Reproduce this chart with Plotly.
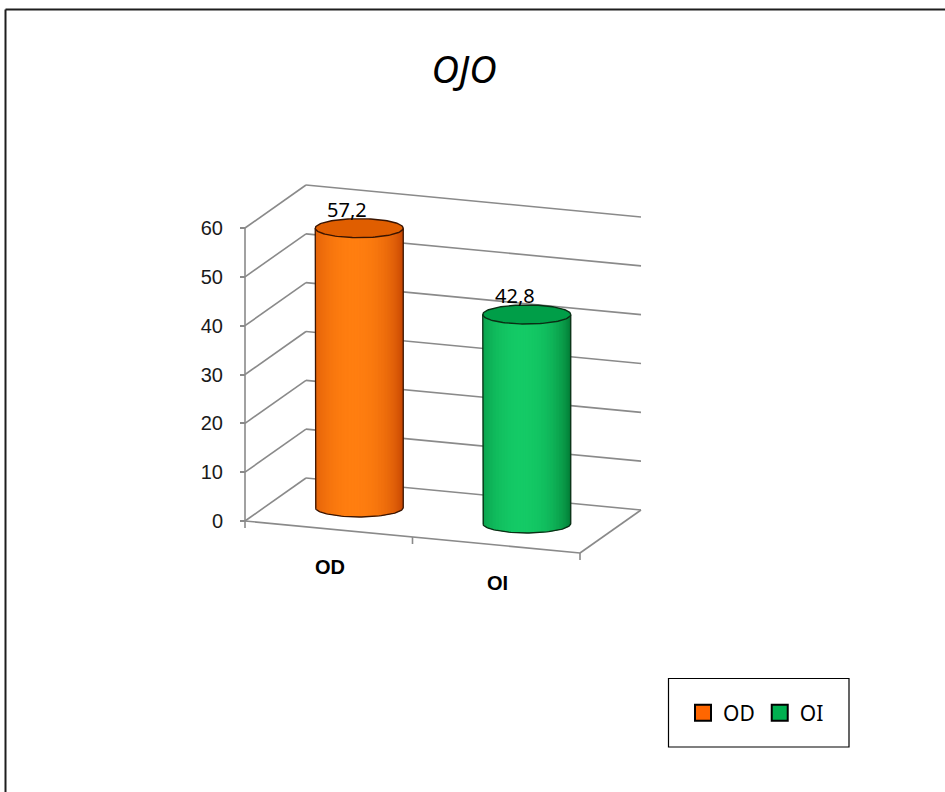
import numpy as np
import plotly.graph_objects as go

# ---------------- data ----------------
categories = ["OD", "OI"]
values = [57.2, 42.8]
value_labels = ["57,2", "42,8"]
tick_values = [0, 10, 20, 30, 40, 50, 60]
tick_labels = ["0", "10", "20", "30", "40", "50", "60"]
title_text = "OJO"
body_edge = [(190, 62, 0), (0, 112, 46)]
body_light = [(255, 126, 16), (20, 202, 102)]
cap_colors = ["#E05E00", "#009E48"]
outline_colors = ["#3a1400", "#0a2e14"]
legend_colors = ["#FF6600", "#00B050"]

# ---------------- projection (oblique 3D) ----------------
W, H = 945, 792
OX, OY = 245.0, 521.0            # front-left floor corner (px)
K = 293.0 / 60.0                 # px per value unit
UX, UY = 335.0, 32.0             # category-axis vector (px, down positive)
DX, DY = 61.0, -43.0             # depth vector (px, down positive)
YMAX = OY / K
YMIN = -(H - OY) / K


def proj(u, w, v):
    x = OX + UX * u + DX * w
    y = v - (UY * u + DY * w) / K
    return x, y


def py2paper(py):
    return 1 - py / H


fig = go.Figure()

# ---------------- walls / gridlines ----------------
gx, gy = [], []


def seg(a, b):
    gx.extend([a[0], b[0], None])
    gy.extend([a[1], b[1], None])


for v in tick_values[1:]:
    seg(proj(0, 0, v), proj(0, 1, v))
    seg(proj(0, 1, v), proj(1, 1, v))
# floor
seg(proj(0, 0, 0), proj(1, 0, 0))
seg(proj(1, 0, 0), proj(1, 1, 0))
seg(proj(1, 1, 0), proj(0, 1, 0))
seg(proj(0, 1, 0), proj(0, 0, 0))
# front-left vertical axis line
seg(proj(0, 0, 0), proj(0, 0, tick_values[-1]))
# category tick marks
for u in [0, 0.5, 1.0]:
    a = proj(u, 0, 0)
    seg(a, (a[0], a[1] - 7 / K))

fig.add_trace(go.Scatter(x=gx, y=gy, mode="lines",
                         line=dict(color="#8a8a8a", width=1.6),
                         hoverinfo="skip", showlegend=False))

# ---------------- cylinders ----------------
R = 44.0
r = 9.5 / K
N = 60
n = len(categories)
for i, (cat, val) in enumerate(zip(categories, values)):
    uc = (i + 0.5) / n
    cx, yb = proj(uc, 0.5, 0)
    _, yt = proj(uc, 0.5, val)
    e = np.array(body_edge[i], float)
    l = np.array(body_light[i], float)
    xs = np.linspace(cx - R, cx + R, N + 1)
    for j in range(N):
        x0 = xs[j]
        x1 = min(xs[j + 1] + 1.2, cx + R)
        t0, t1 = (x0 - cx) / R, (x1 - cx) / R
        tm = 0.5 * (xs[j] + xs[j + 1] - 2 * cx) / R
        m = max(0.0, 1 - ((tm + 0.12) / 1.12) ** 2) ** 0.6
        c = e + (l - e) * m
        col = "rgb(%d,%d,%d)" % tuple(np.round(c))
        b0 = yb - r * np.sqrt(max(0.0, 1 - t0 ** 2))
        b1 = yb - r * np.sqrt(max(0.0, 1 - t1 ** 2))
        fig.add_trace(go.Scatter(x=[x0, x1, x1, x0, x0], y=[yt, yt, b1, b0, yt],
                                 mode="lines", fill="toself", fillcolor=col,
                                 line=dict(width=0),
                                 hoverinfo="skip", showlegend=False))
    # top cap
    th = np.linspace(0, 2 * np.pi, 121)
    ex = cx + R * np.cos(th)
    ey = yt + r * np.sin(th)
    fig.add_trace(go.Scatter(x=ex, y=ey, mode="lines", fill="toself",
                             fillcolor=cap_colors[i],
                             line=dict(color=outline_colors[i], width=1.4),
                             hoverinfo="skip", showlegend=False))
    # silhouette outline
    thb = np.linspace(np.pi, 2 * np.pi, 61)
    ox = [cx - R] + list(cx + R * np.cos(thb)) + [cx + R]
    oy = [yt] + list(yb + r * np.sin(thb)) + [yt]
    fig.add_trace(go.Scatter(x=ox, y=oy, mode="lines",
                             line=dict(color=outline_colors[i], width=1.3),
                             hoverinfo="skip", showlegend=False))
    # value label
    fig.add_annotation(x=cx - 12, y=yt + 19 / K, text=value_labels[i],
                       showarrow=False, xanchor="center", yanchor="middle",
                       font=dict(size=20, color="#000000",
                                 family="Comic Sans MS, Noto Sans, sans-serif"))
    # category label
    lx, ly = proj(uc, 0, 0)
    fig.add_annotation(x=lx + 1, y=ly - 38 / K, text="<b>%s</b>" % cat,
                       showarrow=False, xanchor="center", yanchor="middle",
                       font=dict(size=20, color="#000000",
                                 family="Liberation Sans, Arial, sans-serif"))

# ---------------- legend entries ----------------
for cat, col in zip(categories, legend_colors):
    fig.add_trace(go.Scatter(x=[None], y=[None], mode="markers", name=cat,
                             marker=dict(symbol="square", size=16, color=col,
                                         line=dict(color="#000000", width=2))))

# legend frame
fig.add_shape(type="rect", xref="x", yref="paper",
              x0=668.5, x1=849, y0=py2paper(678.5), y1=py2paper(747),
              line=dict(color="#000000", width=1.2), fillcolor="rgba(0,0,0,0)")
# outer frame (top and left)
fig.add_shape(type="line", xref="x", yref="paper", x0=5.5, x1=W,
              y0=py2paper(9.5), y1=py2paper(9.5),
              line=dict(color="#1e1e1e", width=2))
fig.add_shape(type="line", xref="x", yref="paper", x0=5.5, x1=5.5,
              y0=py2paper(9.5), y1=0, line=dict(color="#1e1e1e", width=2))

fig.update_layout(
    width=W, height=H,
    margin=dict(l=0, r=0, t=0, b=0),
    paper_bgcolor="white", plot_bgcolor="white",
    title=dict(text=title_text, x=464 / W, xanchor="center",
               y=py2paper(70), yanchor="middle",
               font=dict(size=38, style="italic", color="#000000",
                         family="Comic Sans MS, Noto Sans, sans-serif")),
    xaxis=dict(range=[0, W], visible=False, fixedrange=True),
    yaxis=dict(range=[YMIN, YMAX], anchor="free", position=OX / W,
               tickvals=tick_values, ticktext=tick_labels,
               ticks="outside", ticklen=5, tickcolor="#8a8a8a", tickwidth=1.5,
               ticklabelstandoff=13,
               showgrid=False, zeroline=False, showline=False,
               tickfont=dict(size=20, color="#1a1a1a",
                             family="Liberation Sans, Arial, sans-serif"),
               fixedrange=True),
    legend=dict(orientation="h", x=683 / W, xanchor="left",
                y=py2paper(713), yanchor="middle",
                bgcolor="rgba(0,0,0,0)", borderwidth=0,
                font=dict(size=21, color="#000000",
                          family="Comic Sans MS, Noto Sans, sans-serif")),
    showlegend=True,
)

fig.write_html("out.html")
